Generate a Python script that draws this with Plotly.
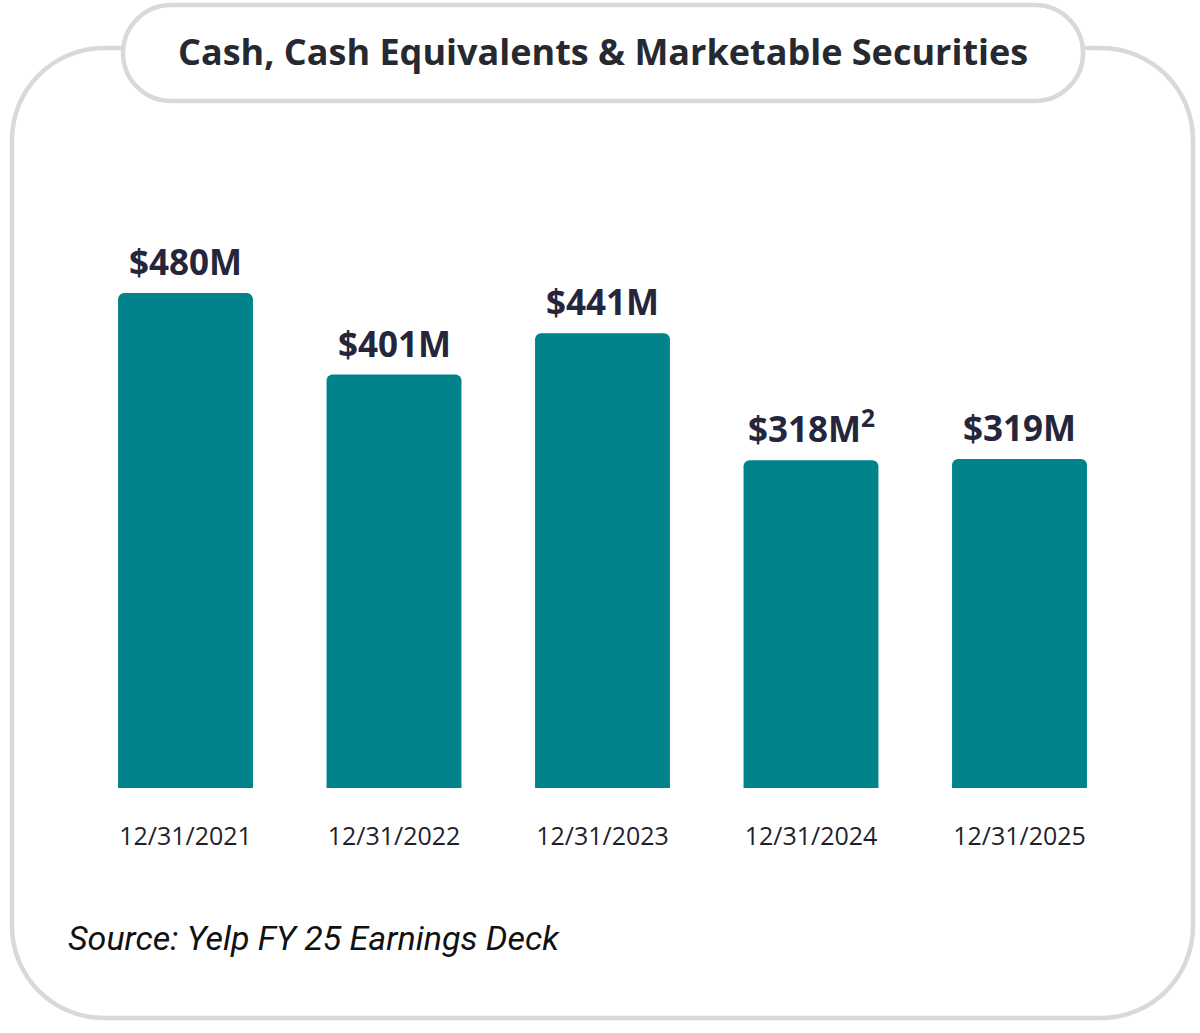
import plotly.graph_objects as go

# ---- data ----
dates = ["12/31/2021", "12/31/2022", "12/31/2023", "12/31/2024", "12/31/2025"]
cash_musd = [480, 401, 441, 318, 319]
value_labels = ["$480M", "$401M", "$441M", "$318M<sup>2</sup>", "$319M"]
title_text = "Cash, Cash Equivalents & Marketable Securities"
source_text = "Source: Yelp FY 25 Earnings Deck"

W, H = 1200, 1033
BAR = "#00838a"
FRAME = "#d9d9d9"


def px(x):
    return x / W


def py(y):
    return 1 - y / H


def P(x, y):
    return f"{px(x):.5f},{py(y):.5f}"


k = 0.5523
# outer frame (open at the top where the title pill sits)
L, R, T, B, r = 12, 1193, 48, 1018, 92
pill_l, pill_r = 123, 1083
outer = " ".join([
    f"M {P(pill_l, T)}",
    f"L {P(L + r, T)}",
    f"C {P(L + r - k * r, T)} {P(L, T + r - k * r)} {P(L, T + r)}",
    f"L {P(L, B - r)}",
    f"C {P(L, B - r + k * r)} {P(L + r - k * r, B)} {P(L + r, B)}",
    f"L {P(R - r, B)}",
    f"C {P(R - r + k * r, B)} {P(R, B - r + k * r)} {P(R, B - r)}",
    f"L {P(R, T + r)}",
    f"C {P(R, T + r - k * r)} {P(R - r + k * r, T)} {P(R - r, T)}",
    f"L {P(pill_r, T)}",
])

# title pill
pt, pb = 5, 101
pr = (pb - pt) / 2
pill = " ".join([
    f"M {P(pill_l + pr, pt)}",
    f"L {P(pill_r - pr, pt)}",
    f"C {P(pill_r - pr + k * pr, pt)} {P(pill_r, pt + pr - k * pr)} {P(pill_r, pt + pr)}",
    f"C {P(pill_r, pt + pr + k * pr)} {P(pill_r - pr + k * pr, pb)} {P(pill_r - pr, pb)}",
    f"L {P(pill_l + pr, pb)}",
    f"C {P(pill_l + pr - k * pr, pb)} {P(pill_l, pt + pr + k * pr)} {P(pill_l, pt + pr)}",
    f"C {P(pill_l, pt + pr - k * pr)} {P(pill_l + pr - k * pr, pt)} {P(pill_l + pr, pt)}",
    "Z",
])

fig = go.Figure()
fig.add_trace(go.Bar(
    x=list(range(len(dates))),
    y=cash_musd,
    marker=dict(color=BAR, line=dict(width=0)),
    hoverinfo="skip",
))

# plot area geometry (pixels)
baseline = 788
px_per_unit = 1.031
ymax = 600
top_px = baseline - ymax * px_per_unit
x_left, x_right = 81.25, 1123.75

fig.update_layout(
    width=W, height=H,
    margin=dict(l=0, r=0, t=0, b=0),
    paper_bgcolor="white", plot_bgcolor="white",
    showlegend=False,
    bargap=0.353,
    barcornerradius=6,
    xaxis=dict(
        domain=[px(x_left), px(x_right)],
        range=[-0.5, len(dates) - 0.5],
        tickmode="array",
        tickvals=list(range(len(dates))),
        ticktext=dates,
        tickfont=dict(family="Open Sans", size=25, color="#1f1f2c"),
        ticks="", showline=False, showgrid=False, zeroline=False,
        ticklabelstandoff=31,
        fixedrange=True,
    ),
    yaxis=dict(
        domain=[py(baseline), py(top_px)],
        range=[0, ymax],
        visible=False,
        fixedrange=True,
    ),
    shapes=[
        dict(type="path", path=outer, xref="paper", yref="paper",
             line=dict(color=FRAME, width=4.5), layer="below"),
        dict(type="path", path=pill, xref="paper", yref="paper",
             line=dict(color=FRAME, width=4.5), fillcolor="white", layer="below"),
    ],
)

annotations = [
    dict(text=title_text, x=px(603), y=py(51), xref="paper", yref="paper",
         xanchor="center", yanchor="middle", showarrow=False,
         font=dict(family="Open Sans", size=36, color="#262a30", weight="bold")),
    dict(text=source_text, x=px(66), y=py(938), xref="paper", yref="paper",
         xanchor="left", yanchor="middle", showarrow=False,
         font=dict(family="Roboto", size=34, color="#111111", style="italic")),
]
for i, (v, lab) in enumerate(zip(cash_musd, value_labels)):
    annotations.append(dict(
        text=f"<b>{lab}</b>", x=i, y=v, xref="x", yref="y",
        xanchor="center", yanchor="bottom", showarrow=False, yshift=6,
        font=dict(family="Open Sans", size=35, color="#25253b"),
    ))
fig.update_layout(annotations=annotations)

fig.write_html("out.html")
